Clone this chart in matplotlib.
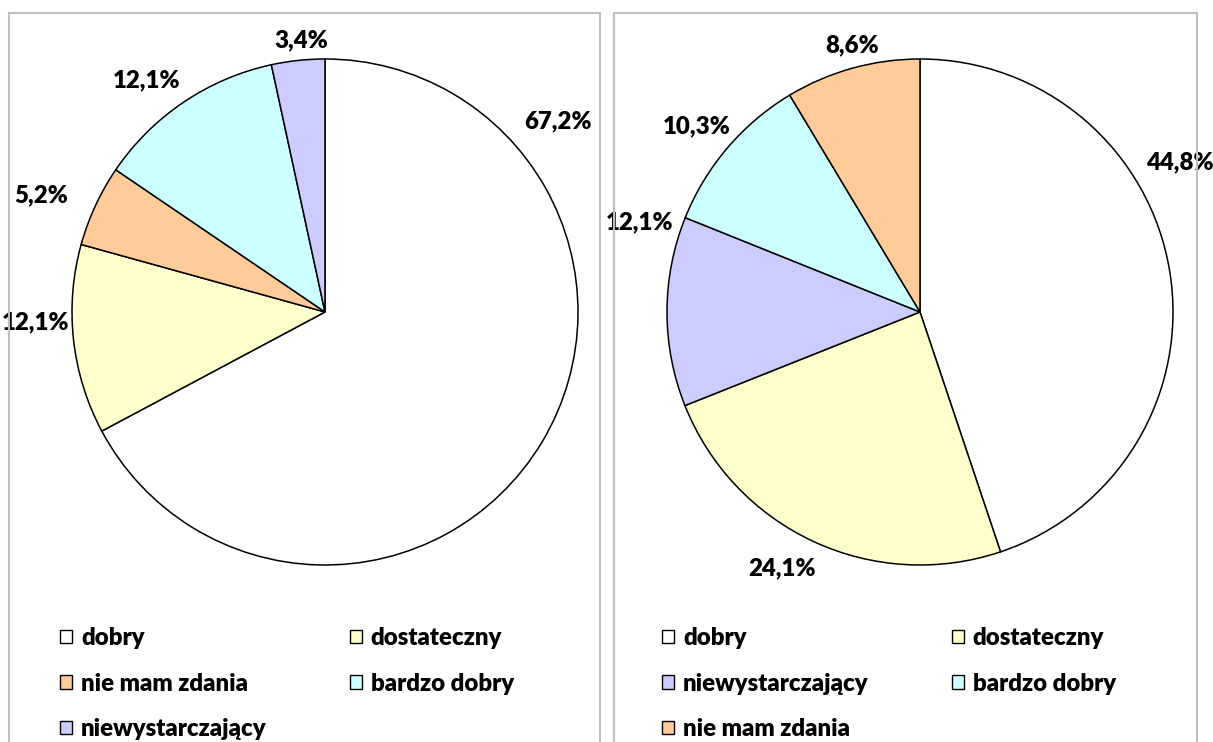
import matplotlib
matplotlib.use("Agg")
import matplotlib.pyplot as plt
from matplotlib.patches import Rectangle, Patch

plt.rcParams['font.family'] = 'Lato'
plt.rcParams['font.weight'] = 'heavy'

# ---- data ----
left_labels = ["dobry", "dostateczny", "nie mam zdania", "bardzo dobry", "niewystarczający"]
left_values = [67.2, 12.1, 5.2, 12.1, 3.4]
left_texts = ["67,2%", "12,1%", "5,2%", "12,1%", "3,4%"]

right_labels = ["dobry", "dostateczny", "niewystarczający", "bardzo dobry", "nie mam zdania"]
right_values = [44.8, 24.1, 12.1, 10.3, 8.6]
right_texts = ["44,8%", "24,1%", "12,1%", "10,3%", "8,6%"]

colors_map = {
    "dobry": "#FFFFFF",
    "dostateczny": "#FFFFCC",
    "nie mam zdania": "#FFCC99",
    "bardzo dobry": "#CCFFFF",
    "niewystarczający": "#CCCCFF",
}

# label positions (in pie-radius units, relative to centre) – Excel "best fit" placement
left_label_pos = [(0.921, 0.755), (-1.142, -0.04), (-1.123, 0.462), (-0.704, 0.917), (-0.095, 1.075)]
right_label_pos = [(1.028, 0.593), (-0.545, -1.012), (-1.107, 0.356), (-0.881, 0.735), (-0.269, 1.055)]

W, H = 1213, 742
fig = plt.figure(figsize=(W / 100, H / 100), dpi=100)
FS = 17.3
WT = "heavy"


def px_rect(x0, y0, w, h):
    return [x0 / W, 1 - (y0 + h) / H, w / W, h / H]


for (x0, x1) in [(9, 600), (614, 1197)]:
    fig.patches.append(Rectangle(((x0) / W, 1 - 800 / H), (x1 - x0) / W, (800 - 13) / H,
                                 transform=fig.transFigure, fill=False,
                                 edgecolor="#C0C0C0", linewidth=1.5, zorder=0))


def draw(cx, labels, values, texts, label_pos, legend_x):
    r = 253
    ax = fig.add_axes(px_rect(cx - r, 312 - r, 2 * r, 2 * r))
    cols = [colors_map[l] for l in labels]
    ax.pie(values, colors=cols, startangle=90, counterclock=False, radius=1.0,
           wedgeprops=dict(edgecolor="black", linewidth=1.1))
    ax.set_xlim(-1, 1)
    ax.set_ylim(-1, 1)
    ax.set_aspect("equal")
    ax.axis("off")
    for t, (dx, dy) in zip(texts, label_pos):
        ax.text(dx, dy, t, ha="center", va="center", fontsize=FS,
                fontweight=WT, family="Lato", clip_on=False)
    handles = [Patch(facecolor=c, edgecolor="black", linewidth=1.0) for c in cols]
    order = [0, 2, 4, 1, 3]
    fig.legend([handles[i] for i in order], [labels[i] for i in order],
               ncol=2, loc="upper left",
               bbox_to_anchor=(legend_x / W, 1 - 627 / H),
               frameon=False, prop=dict(family="Lato", weight=WT, size=FS),
               handlelength=0.5, handleheight=0.5, handletextpad=0.38,
               columnspacing=3.45, labelspacing=0.98, borderaxespad=0,
               borderpad=0)


draw(325, left_labels, left_values, left_texts, left_label_pos, 60)
draw(920, right_labels, right_values, right_texts, right_label_pos, 662)

fig.savefig("out.png", dpi=100)
